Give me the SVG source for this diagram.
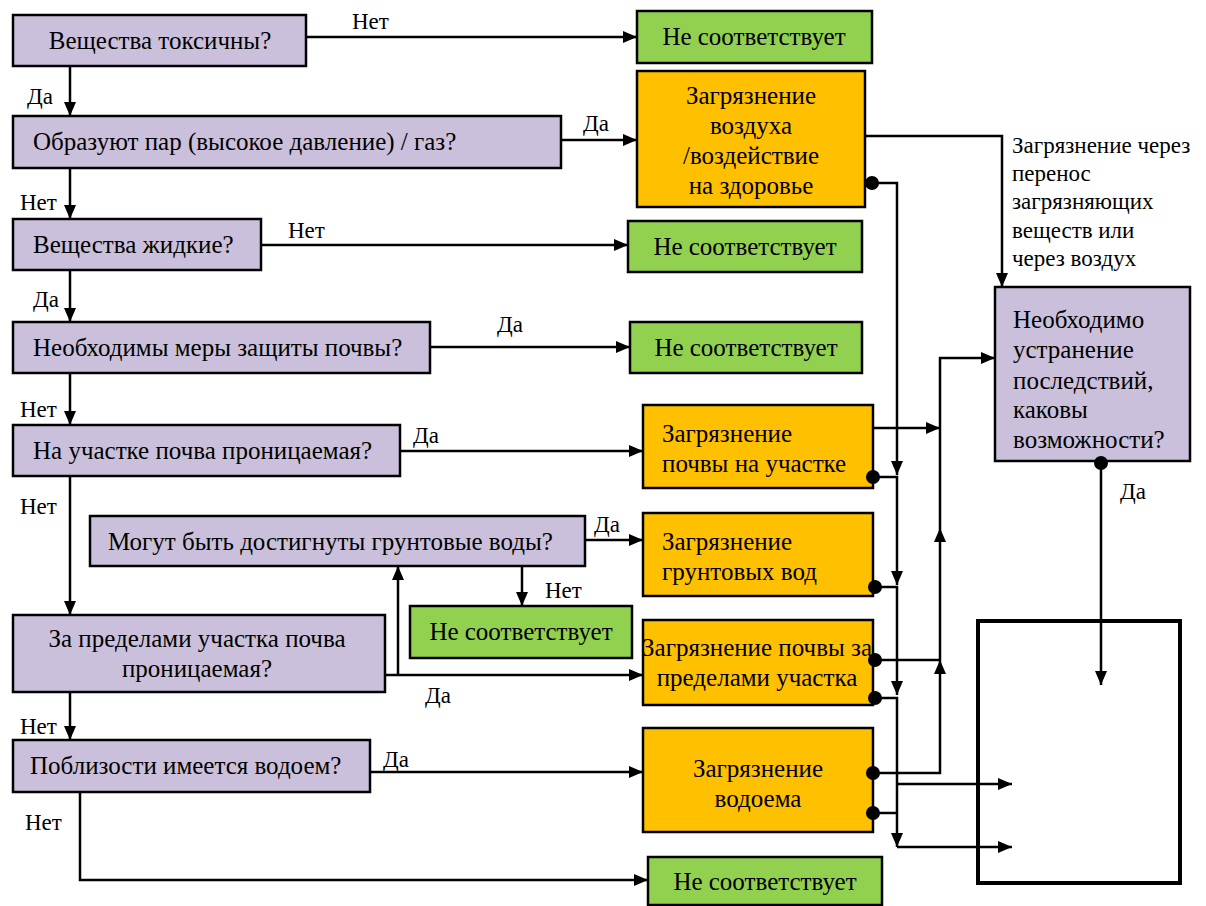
<svg xmlns="http://www.w3.org/2000/svg" width="1206" height="906" viewBox="0 0 1206 906">
<defs>
<marker id="a" viewBox="0 0 14 12" refX="14" refY="6" markerWidth="14" markerHeight="12" markerUnits="userSpaceOnUse" orient="auto"><path d="M0,0 L14,6 L0,12 z" fill="#000"/></marker>
<circle id="dot" r="7" fill="#000"/>
</defs>
<rect width="1206" height="906" fill="#fff"/>

<g stroke="#000" stroke-width="2.5" fill="#cbc0db">
<g id="n1"><rect x="13" y="15" width="293" height="51"/></g>
<g id="n2"><rect x="13" y="116" width="548" height="52"/></g>
<g id="n3"><rect x="13" y="219" width="248" height="51"/></g>
<g id="n4"><rect x="13" y="322" width="417" height="51"/></g>
<g id="n5"><rect x="13" y="425" width="387" height="51"/></g>
<g id="n6"><rect x="90" y="516" width="495" height="50"/></g>
<g id="n7"><rect x="13" y="615" width="372" height="77"/></g>
<g id="n8"><rect x="13" y="740" width="357" height="52"/></g>
<g id="n9"><rect x="995" y="287" width="195" height="174"/></g>
</g>
<g stroke="#000" stroke-width="2.5" fill="#92d050">
<g id="g1"><rect x="637" y="11" width="235" height="52"/></g>
<g id="g2"><rect x="628" y="221" width="234" height="51"/></g>
<g id="g3"><rect x="630" y="322" width="232" height="51"/></g>
<g id="g4"><rect x="410" y="606" width="222" height="52"/></g>
<g id="g5"><rect x="648" y="857" width="234" height="48"/></g>
</g>
<g stroke="#000" stroke-width="2.5" fill="#ffc000">
<g id="o1"><rect x="637" y="71" width="228" height="136"/></g>
<g id="o2"><rect x="643" y="405" width="230" height="83"/></g>
<g id="o3"><rect x="643" y="513" width="230" height="83"/></g>
<g id="o4"><rect x="643" y="620" width="230" height="85"/></g>
<g id="o5"><rect x="643" y="728" width="230" height="104"/></g>
</g>
<g id="n10"><rect x="978" y="621" width="202" height="262" fill="#fff" stroke="#000" stroke-width="4"/></g>

<g id="connectors">
<g fill="none" stroke="#000" stroke-width="2.5">
<path d="M70,66 V116" marker-end="url(#a)"/>
<path d="M306,37 H637" marker-end="url(#a)"/>
<path d="M70,168 V219" marker-end="url(#a)"/>
<path d="M561,140 H637" marker-end="url(#a)"/>
<path d="M70,270 V322" marker-end="url(#a)"/>
<path d="M261,245 H628" marker-end="url(#a)"/>
<path d="M70,373 V425" marker-end="url(#a)"/>
<path d="M430,347 H630" marker-end="url(#a)"/>
<path d="M70,476 V615" marker-end="url(#a)"/>
<path d="M400,451 H643" marker-end="url(#a)"/>
<path d="M585,540 H643" marker-end="url(#a)"/>
<path d="M522,566 V606" marker-end="url(#a)"/>
<path d="M385,675 H643" marker-end="url(#a)"/>
<path d="M398,675 V566" marker-end="url(#a)"/>
<path d="M70,692 V740" marker-end="url(#a)"/>
<path d="M370,772 H643" marker-end="url(#a)"/>
<path d="M80,792 V880 H648" marker-end="url(#a)"/>
<path d="M865,136 H1002 V287" marker-end="url(#a)"/>
<path d="M872,183 H897 V475" marker-end="url(#a)"/>
<path d="M873,477 H897 V585" marker-end="url(#a)"/>
<path d="M873,587 H897 V695" marker-end="url(#a)"/>
<path d="M873,698 H897 V847" marker-end="url(#a)"/>
<path d="M873,813 H897"/>
<path d="M897,847 H1012" marker-end="url(#a)"/>
<path d="M897,784 H1012" marker-end="url(#a)"/>
<path d="M873,428 H940" marker-end="url(#a)"/>
<path d="M873,773 H940 V660" marker-end="url(#a)"/>
<path d="M873,660 H940"/>
<path d="M940,660 V528" marker-end="url(#a)"/>
<path d="M940,528 V358 H995" marker-end="url(#a)"/>
<path d="M1101,463 V685" marker-end="url(#a)"/>
</g>
<use href="#dot" x="872" y="183"/>
<use href="#dot" x="873" y="477"/>
<use href="#dot" x="875" y="587"/>
<use href="#dot" x="875" y="660"/>
<use href="#dot" x="875" y="698"/>
<use href="#dot" x="873" y="773"/>
<use href="#dot" x="873" y="813"/>
<use href="#dot" x="1101" y="463"/>
</g>

<text x="160" y="49" font-family="Times New Roman" font-size="25" text-anchor="middle">Вещества токсичны?</text>
<text x="33" y="150" font-family="Times New Roman" font-size="25">Образуют пар (высокое давление) / газ?</text>
<text x="33" y="253" font-family="Times New Roman" font-size="25">Вещества жидкие?</text>
<text x="33" y="356" font-family="Times New Roman" font-size="25">Необходимы меры защиты почвы?</text>
<text x="33" y="459" font-family="Times New Roman" font-size="25">На участке почва проницаемая?</text>
<text x="108" y="550" font-family="Times New Roman" font-size="25">Могут быть достигнуты грунтовые воды?</text>
<text x="197" y="647" font-family="Times New Roman" font-size="25" text-anchor="middle">За пределами участка почва</text>
<text x="197" y="677" font-family="Times New Roman" font-size="25" text-anchor="middle">проницаемая?</text>
<text x="30" y="774" font-family="Times New Roman" font-size="25">Поблизости имеется водоем?</text>
<text x="1013" y="328" font-family="Times New Roman" font-size="25">Необходимо</text>
<text x="1013" y="358" font-family="Times New Roman" font-size="25">устранение</text>
<text x="1013" y="389" font-family="Times New Roman" font-size="25">последствий,</text>
<text x="1013" y="418" font-family="Times New Roman" font-size="25">каковы</text>
<text x="1013" y="448" font-family="Times New Roman" font-size="25">возможности?</text>
<text x="754" y="45" font-family="Times New Roman" font-size="25" text-anchor="middle">Не соответствует</text>
<text x="745" y="255" font-family="Times New Roman" font-size="25" text-anchor="middle">Не соответствует</text>
<text x="746" y="356" font-family="Times New Roman" font-size="25" text-anchor="middle">Не соответствует</text>
<text x="521" y="640" font-family="Times New Roman" font-size="25" text-anchor="middle">Не соответствует</text>
<text x="765" y="890" font-family="Times New Roman" font-size="25" text-anchor="middle">Не соответствует</text>
<text x="751" y="104" font-family="Times New Roman" font-size="25" text-anchor="middle">Загрязнение</text>
<text x="751" y="134" font-family="Times New Roman" font-size="25" text-anchor="middle">воздуха</text>
<text x="751" y="164" font-family="Times New Roman" font-size="25" text-anchor="middle">/воздействие</text>
<text x="751" y="194" font-family="Times New Roman" font-size="25" text-anchor="middle">на здоровье</text>
<text x="662" y="442" font-family="Times New Roman" font-size="25">Загрязнение</text>
<text x="662" y="472" font-family="Times New Roman" font-size="25">почвы на участке</text>
<text x="662" y="550" font-family="Times New Roman" font-size="25">Загрязнение</text>
<text x="662" y="580" font-family="Times New Roman" font-size="25">грунтовых вод</text>
<text x="757" y="656" font-family="Times New Roman" font-size="25" text-anchor="middle">Загрязнение почвы за</text>
<text x="757" y="686" font-family="Times New Roman" font-size="25" text-anchor="middle">пределами участка</text>
<text x="758" y="777" font-family="Times New Roman" font-size="25" text-anchor="middle">Загрязнение</text>
<text x="758" y="807" font-family="Times New Roman" font-size="25" text-anchor="middle">водоема</text>
<text x="27" y="104" font-family="Times New Roman" font-size="23">Да</text>
<text x="352" y="29" font-family="Times New Roman" font-size="23">Нет</text>
<text x="20" y="210" font-family="Times New Roman" font-size="23">Нет</text>
<text x="583" y="131" font-family="Times New Roman" font-size="23">Да</text>
<text x="33" y="307" font-family="Times New Roman" font-size="23">Да</text>
<text x="288" y="238" font-family="Times New Roman" font-size="23">Нет</text>
<text x="20" y="417" font-family="Times New Roman" font-size="23">Нет</text>
<text x="497" y="332" font-family="Times New Roman" font-size="23">Да</text>
<text x="20" y="514" font-family="Times New Roman" font-size="23">Нет</text>
<text x="413" y="443" font-family="Times New Roman" font-size="23">Да</text>
<text x="594" y="532" font-family="Times New Roman" font-size="23">Да</text>
<text x="545" y="598" font-family="Times New Roman" font-size="23">Нет</text>
<text x="425" y="703" font-family="Times New Roman" font-size="23">Да</text>
<text x="20" y="734" font-family="Times New Roman" font-size="23">Нет</text>
<text x="383" y="767" font-family="Times New Roman" font-size="23">Да</text>
<text x="25" y="830" font-family="Times New Roman" font-size="23">Нет</text>
<text x="1120" y="499" font-family="Times New Roman" font-size="23">Да</text>
<text x="1012" y="153" font-family="Times New Roman" font-size="23">Загрязнение через</text>
<text x="1012" y="181" font-family="Times New Roman" font-size="23">перенос</text>
<text x="1012" y="209" font-family="Times New Roman" font-size="23">загрязняющих</text>
<text x="1012" y="238" font-family="Times New Roman" font-size="23">веществ или</text>
<text x="1012" y="266" font-family="Times New Roman" font-size="23">через воздух</text>
</svg>
